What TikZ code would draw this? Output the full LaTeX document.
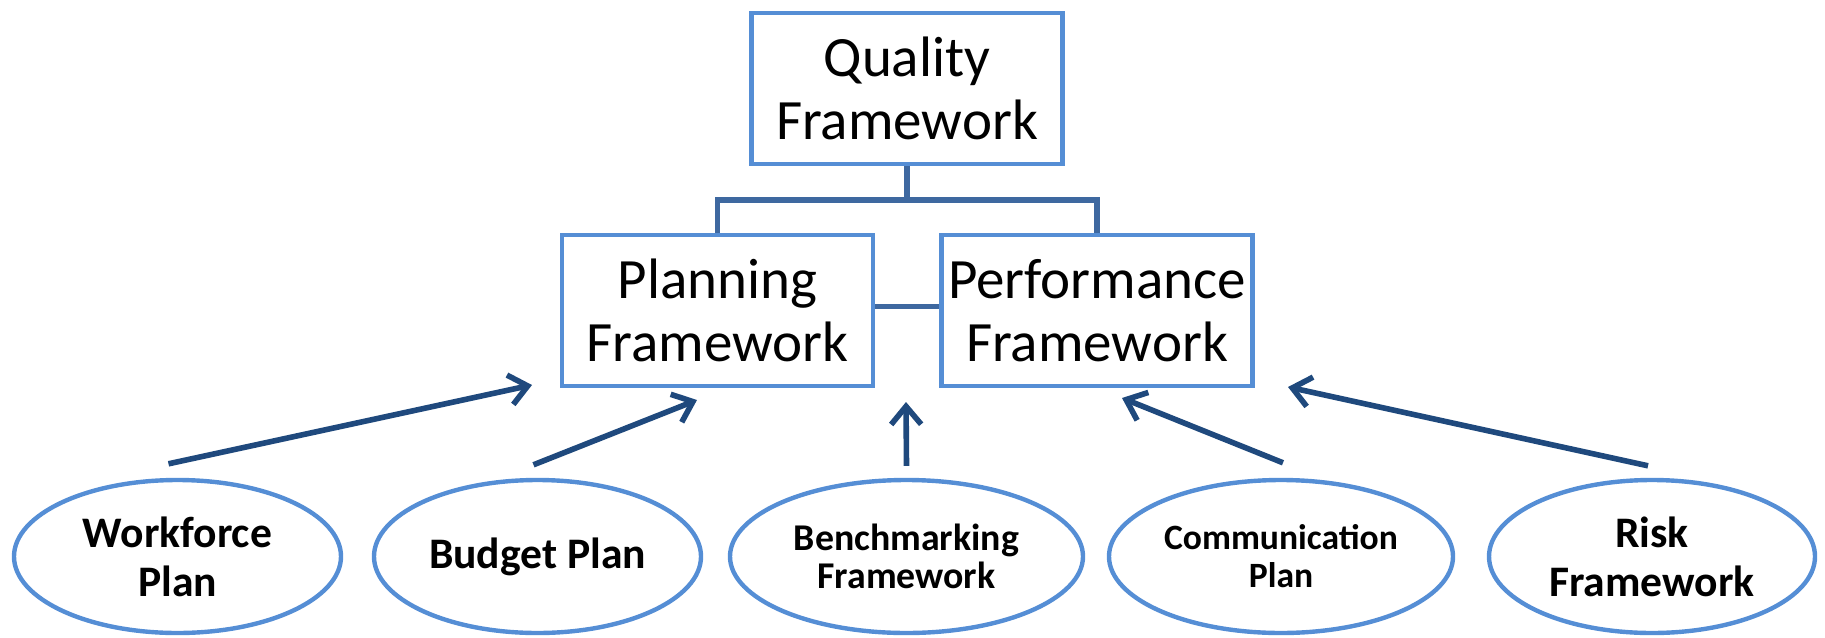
\documentclass[tikz,border=0pt]{standalone}
\usepackage{fontspec}
\setmainfont{Carlito}
\usetikzlibrary{shapes.geometric, arrows.meta}
\definecolor{boxblue}{RGB}{85,142,213}
\definecolor{linkblue}{RGB}{62,104,160}
\definecolor{arrowblue}{RGB}{31,73,125}

\begin{document}
\begin{tikzpicture}[x=0.5pt, y=-0.5pt,
    fwbox/.style={draw=boxblue, line width=2.4pt, minimum width=155.5pt, minimum height=75.5pt,
        inner sep=0pt, align=center, font=\fontsize{28.5}{31.5}\selectfont},
    planoval/.style={ellipse, draw=boxblue, line width=2.2pt, minimum height=76.5pt,
        inner sep=0pt, align=center, font=\bfseries\fontsize{21.8}{24.5}\selectfont},
    link/.style={draw=linkblue, line width=2.8pt},
    feed/.style={draw=arrowblue, line width=2.8pt, -{Straight Barb[length=9pt,width=15pt]}}]
    \useasboundingbox (0,0) rectangle (1825,637);         % page frame
    % framework boxes
    \node [fwbox] (quality) at (907,88.5) {Quality\\Framework};
    \node [fwbox] (planning) at (717.5,310.5) {Planning\\Framework};
    \node [fwbox] (performance) at (1097,310.5) {Performance\\Framework};
    % plans
    \node [planoval, minimum width=163.5pt] (workforce) at (177.5,556.5) {Workforce\\Plan};
    \node [planoval, minimum width=163.5pt] (budget) at (537.5,556.5) {Budget Plan};
    \node [planoval, minimum width=176.5pt, font=\bfseries\fontsize{18.9}{19}\selectfont]
        (benchmarking) at (906.5,556.5) {Benchmarking\\Framework};
    \node [planoval, minimum width=172pt, font=\bfseries\fontsize{17.8}{19}\selectfont]
        (communication) at (1281,556.5) {Communication\\Plan};
    \node [planoval, minimum width=163pt] (risk) at (1652,556.5) {Risk\\Framework};
    % tree lines
    \coordinate (fork) at (907,200);
    \draw [link] (quality.south) -- (fork);
    \draw [link] (planning.north) |- (fork) -| (performance.north);
    \draw [link] ([yshift=2pt]planning.east) -- ([yshift=2pt]performance.west);
    % arrow tips
    \coordinate (tipA) at (532,385);
    \coordinate (tipB) at (697,400);
    \coordinate (tipC) at (906,402);
    \coordinate (tipD) at (1122,398);
    \coordinate (tipE) at (1288,387);
    \draw [feed] ([xshift=-4.5pt, yshift=7pt]workforce.north) -- (tipA);
    \draw [feed] ([xshift=-2pt, yshift=6.5pt]budget.north) -- (tipB);
    \draw [feed] ([yshift=6pt]benchmarking.north) -- (tipC);
    \draw [feed] ([xshift=1pt, yshift=7.5pt]communication.north) -- (tipD);
    \draw [feed] ([xshift=-2pt, yshift=6pt]risk.north) -- (tipE);
\end{tikzpicture}
\end{document}
